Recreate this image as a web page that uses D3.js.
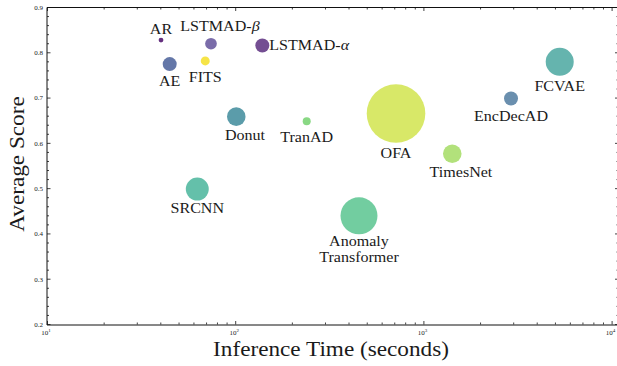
<!DOCTYPE html>
<html>
<head>
<meta charset="utf-8">
<script src="https://cdn.jsdelivr.net/npm/d3@7"></script>
<style>
  html, body { margin: 0; padding: 0; background: #fff; }
  svg { display: block; }
  text { font-family: "Liberation Serif", "Times New Roman", serif; fill: #1a1a1a; }
</style>
</head>
<body>
<svg id="chart" width="617" height="366"></svg>
<script>
// Models compared: inference time (s), average score, bubble size
const models = ["AR", "LSTMAD-β", "LSTMAD-α", "AE", "FITS", "Donut", "TranAD",
                "OFA", "TimesNet", "EncDecAD", "FCVAE", "SRCNN", "Anomaly Transformer"];
const inferenceTime = [40.1, 73.9, 138.5, 44.6, 68.9, 100.7, 238.4,
                       711, 1415, 2903, 5268, 62.5, 452];
const averageScore  = [0.828, 0.820, 0.816, 0.775, 0.782, 0.659, 0.649,
                       0.666, 0.577, 0.699, 0.780, 0.499, 0.440];
const bubbleSize    = [5.8, 34, 49, 49, 20, 86, 16,
                       858, 86, 49, 196, 132, 342];
const xTickValues = [10, 100, 1000, 10000];
const xTickExponents = ["1", "2", "3", "4"];
const yTickValues = [0.2, 0.3, 0.4, 0.5, 0.6, 0.7, 0.8, 0.9];

// Fill colour for each bubble
const colors = ["#65307f", "#7a6ca9", "#744e92", "#6477a8", "#f6e447", "#5b9caa", "#89d884",
                "#d8e868", "#b2e17b", "#6a8fae", "#65b4ae", "#64c0aa", "#72cda0"];

// Label placement relative to each bubble centre: [dx, dy, anchor]
const labelPlacement = [
  [0, -6, "middle"], [9, -13, "middle"], [7, 4.6, "start"], [0, 21.7, "middle"],
  [0, 20.6, "middle"], [8.7, 23.3, "middle"], [0, 20.4, "middle"], [0, 45, "middle"],
  [8.7, 23, "middle"], [0, 22, "middle"], [0, 28.7, "middle"], [0, 24.3, "middle"],
  [0, 30.3, "middle"]
];

const svg = d3.select("#chart");
const plotLeft = 47, plotRight = 618.5, plotTop = 7.5, plotBottom = 324.5;

const x = d3.scaleLog()
  .domain([10, Math.pow(10, 1 + (plotRight - 47.5) / 188.2)])
  .range([47.5, plotRight]);
const y = d3.scaleLinear().domain([0.2, 0.9]).range([plotBottom, plotTop]);
const r = d3.scaleSqrt().domain([0, 858]).range([0, 29.3]);

// Computer Modern is a touch wider than Times; widen text accordingly
function widen(sel, factor) {
  sel.each(function () {
    const len = this.getComputedTextLength();
    d3.select(this).attr("textLength", len * factor).attr("lengthAdjust", "spacingAndGlyphs");
  });
}

// Minor/major tick lists
const xMinor = x.ticks().filter(v => xTickValues.indexOf(v) < 0 && v < x.domain()[1]);
const yMinor = d3.range(0.2, 0.9001, 0.02).map(v => +v.toFixed(2))
  .filter(v => yTickValues.every(t => Math.abs(t - v) > 1e-6));

const ticks = svg.append("g").attr("stroke", "#111").attr("stroke-width", 0.8);
// bottom & top
xTickValues.forEach(v => {
  ticks.append("line").attr("x1", x(v)).attr("x2", x(v)).attr("y1", plotBottom).attr("y2", plotBottom - 3.5);
  ticks.append("line").attr("x1", x(v)).attr("x2", x(v)).attr("y1", plotTop).attr("y2", plotTop + 3.5);
});
xMinor.forEach(v => {
  ticks.append("line").attr("x1", x(v)).attr("x2", x(v)).attr("y1", plotBottom).attr("y2", plotBottom - 2);
  ticks.append("line").attr("x1", x(v)).attr("x2", x(v)).attr("y1", plotTop).attr("y2", plotTop + 2);
});
// left & right
yTickValues.forEach(v => {
  ticks.append("line").attr("x1", plotLeft).attr("x2", plotLeft + 3.5).attr("y1", y(v)).attr("y2", y(v));
  ticks.append("line").attr("x1", plotRight).attr("x2", plotRight - 3.5).attr("y1", y(v)).attr("y2", y(v));
});
yMinor.forEach(v => {
  ticks.append("line").attr("x1", plotLeft).attr("x2", plotLeft + 2).attr("y1", y(v)).attr("y2", y(v));
  ticks.append("line").attr("x1", plotRight).attr("x2", plotRight - 2).attr("y1", y(v)).attr("y2", y(v));
});

// Frame
const frame = svg.append("g").attr("stroke", "#111").attr("stroke-width", 1).attr("fill", "none");
frame.append("line").attr("x1", plotLeft).attr("x2", plotRight).attr("y1", plotTop).attr("y2", plotTop);
frame.append("line").attr("x1", plotLeft).attr("x2", plotRight).attr("y1", plotBottom + 0.5).attr("y2", plotBottom + 0.5);
frame.append("line").attr("x1", plotLeft).attr("x2", plotLeft).attr("y1", plotTop).attr("y2", plotBottom + 0.5);
frame.append("line").attr("x1", plotRight).attr("x2", plotRight).attr("y1", plotTop).attr("y2", plotBottom + 0.5);

// Tick labels
svg.append("g").selectAll("text").data(yTickValues).join("text")
  .attr("x", 43).attr("y", d => y(d) + 2.4)
  .attr("text-anchor", "end").attr("font-size", 7).attr("fill", "#333")
  .text(d => d.toFixed(1));

const xl = svg.append("g").selectAll("text").data(xTickValues).join("text")
  .attr("x", (d, i) => x(d) - 1.5).attr("y", 335)
  .attr("text-anchor", "middle").attr("font-size", 7).attr("fill", "#333");
xl.append("tspan").text("10");
xl.append("tspan").attr("font-size", 5).attr("dy", -3).text((d, i) => xTickExponents[i]);

// Bubbles, largest first so small ones stay on top
const idx = d3.range(models.length).sort((a, b) => bubbleSize[b] - bubbleSize[a]);
svg.append("g").selectAll("circle").data(idx).join("circle")
  .attr("cx", i => x(inferenceTime[i]))
  .attr("cy", i => y(averageScore[i]))
  .attr("r", i => r(bubbleSize[i]))
  .attr("fill", i => colors[i]);

// Bubble labels
const labels = svg.append("g").selectAll("text").data(d3.range(models.length)).join("text")
  .attr("x", i => x(inferenceTime[i]) + labelPlacement[i][0])
  .attr("y", i => y(averageScore[i]) + labelPlacement[i][1])
  .attr("text-anchor", i => labelPlacement[i][2])
  .attr("font-size", 15);
labels.each(function (i) {
  const t = d3.select(this);
  const name = models[i];
  if (name === "Anomaly Transformer") {
    const cx = x(inferenceTime[i]) + labelPlacement[i][0];
    t.append("tspan").attr("x", cx).text("Anomaly");
    t.append("tspan").attr("x", cx).attr("dy", 15.7).text("Transformer");
  } else if (name.startsWith("LSTMAD-")) {
    t.append("tspan").text("LSTMAD-");
    t.append("tspan").attr("font-style", "italic").text(name.slice(-1));
  } else {
    t.text(name);
  }
});
labels.filter(i => models[i] !== "Anomaly Transformer").call(widen, 1.07);
labels.filter(i => models[i] === "Anomaly Transformer").selectAll("tspan").call(widen, 1.07);

// Axis titles
svg.append("text")
  .attr("x", (47.5 + plotRight) / 2 - 2).attr("y", 356)
  .attr("text-anchor", "middle").attr("font-size", 20)
  .text("Inference Time (seconds)").call(widen, 1.16);

svg.append("text")
  .attr("transform", `translate(24,${(plotTop + plotBottom) / 2 - 2}) rotate(-90)`)
  .attr("text-anchor", "middle").attr("font-size", 20)
  .text("Average Score").call(widen, 1.16);
</script>
</body>
</html>
